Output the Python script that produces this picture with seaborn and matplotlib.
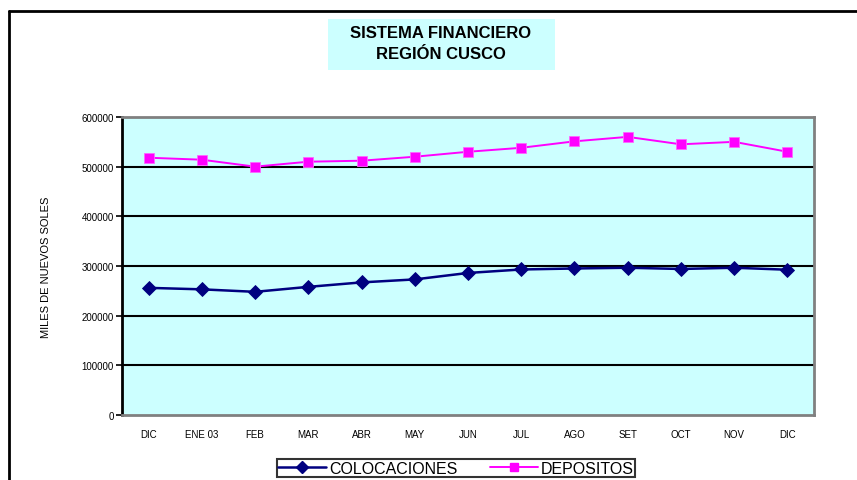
import matplotlib
matplotlib.use("Agg")
import matplotlib.pyplot as plt
import seaborn as sns
import pandas as pd
from matplotlib.lines import Line2D
from matplotlib.patches import Rectangle

months = ["DIC", "ENE 03", "FEB", "MAR", "ABR", "MAY", "JUN", "JUL", "AGO", "SET", "OCT", "NOV", "DIC"]
colocaciones = [256000, 253000, 248000, 258000, 267000, 273000, 286000, 293000, 295000, 296500, 294000, 296500, 292500]
depositos = [518000, 514000, 500000, 510000, 512000, 520000, 530000, 538000, 551000, 560000, 545000, 550000, 530000]
series_names = ["COLOCACIONES", "DEPOSITOS"]
yticks = [0, 100000, 200000, 300000, 400000, 500000, 600000]

sns.set_theme(style="white")
plt.rcParams['font.family'] = ['Liberation Sans', 'DejaVu Sans']
plt.rcParams.update({"text.color": "black", "xtick.color": "black", "ytick.color": "black",
                     "axes.labelcolor": "black"})

df = pd.DataFrame({
    "x": list(range(len(months))) * 2,
    "value": colocaciones + depositos,
    "serie": [series_names[0]] * len(months) + [series_names[1]] * len(months),
})

W, H = 857, 481
fig = plt.figure(figsize=(W / 100, H / 100), dpi=100)
fig.patch.set_facecolor("white")
ax = fig.add_axes([122 / W, 1 - 416 / H, (814 - 122) / W, (416 - 118) / H])
ax.set_facecolor("#CCFFFF")

palette = {series_names[0]: "#000080", series_names[1]: "#FF00FF"}
sns.lineplot(data=df, x="x", y="value", hue="serie", style="serie",
             markers={series_names[0]: "D", series_names[1]: "s"}, dashes=False,
             palette=palette, linewidth=1.6, markersize=7, markeredgewidth=0.6,
             legend=False, ax=ax)
for line, ec, lw in zip(ax.lines, ["#000080", "#FF66FF"], [1.8, 1.4]):
    line.set_markeredgecolor(ec)
    line.set_linewidth(lw)
    line.set_zorder(5)

ax.set_xlim(-0.5, len(months) - 0.5)
ax.set_ylim(0, 600000)
ax.set_yticks(yticks)
ax.set_yticklabels([str(v) for v in yticks], fontsize=7)
ax.set_xticks(range(len(months)))
ax.set_xticklabels(months, fontsize=7)
ax.tick_params(axis="x", length=0, pad=10)
ax.tick_params(axis="y", length=4, width=1.2, color="black", direction="out", pad=2, left=True)
ax.set_xlabel("")
ax.set_ylabel("MILES DE NUEVOS SOLES", fontsize=8, labelpad=22)
for y in yticks[1:-1]:
    ax.axhline(y, color="black", linewidth=1.5, zorder=1)
ax.spines["left"].set_color("black")
ax.spines["left"].set_linewidth(2)
for s in ["top", "right", "bottom"]:
    ax.spines[s].set_color("#808080")
    ax.spines[s].set_linewidth(2)
    ax.spines[s].set_visible(True)

# title box
fig.text(441 / W, 1 - 44 / H, "SISTEMA FINANCIERO\nREGIÓN CUSCO", ha="center", va="center",
         fontsize=12, fontweight="bold", linespacing=1.45, color="black")
fig.add_artist(Rectangle((328 / W, 1 - 71 / H), (555 - 328) / W, (71 - 20) / H,
                         transform=fig.transFigure, facecolor="#CCFFFF", edgecolor="none", zorder=0))

# outer border (top and left, bottom cut off)
fig.add_artist(Line2D([9 / W, 9 / W], [0, 1 - 12 / H], transform=fig.transFigure, color="black", linewidth=2))
fig.add_artist(Line2D([9 / W, 1], [1 - 12 / H, 1 - 12 / H], transform=fig.transFigure, color="black", linewidth=2))

handles = [Line2D([], [], color="#000080", marker="D", markersize=6, linewidth=1.8),
           Line2D([], [], color="#FF00FF", marker="s", markersize=6, linewidth=1.4)]
leg = fig.legend(handles, series_names, loc="upper center", bbox_to_anchor=(456 / W, 1 - 457 / H),
                 ncol=2, frameon=True, fontsize=11.5, handlelength=3.0, handletextpad=0.2,
                 columnspacing=2.0, borderpad=0.1, borderaxespad=0.2, fancybox=False)
leg.get_frame().set_edgecolor("black")
leg.get_frame().set_linewidth(1.5)

fig.savefig("out.png", dpi=100)
